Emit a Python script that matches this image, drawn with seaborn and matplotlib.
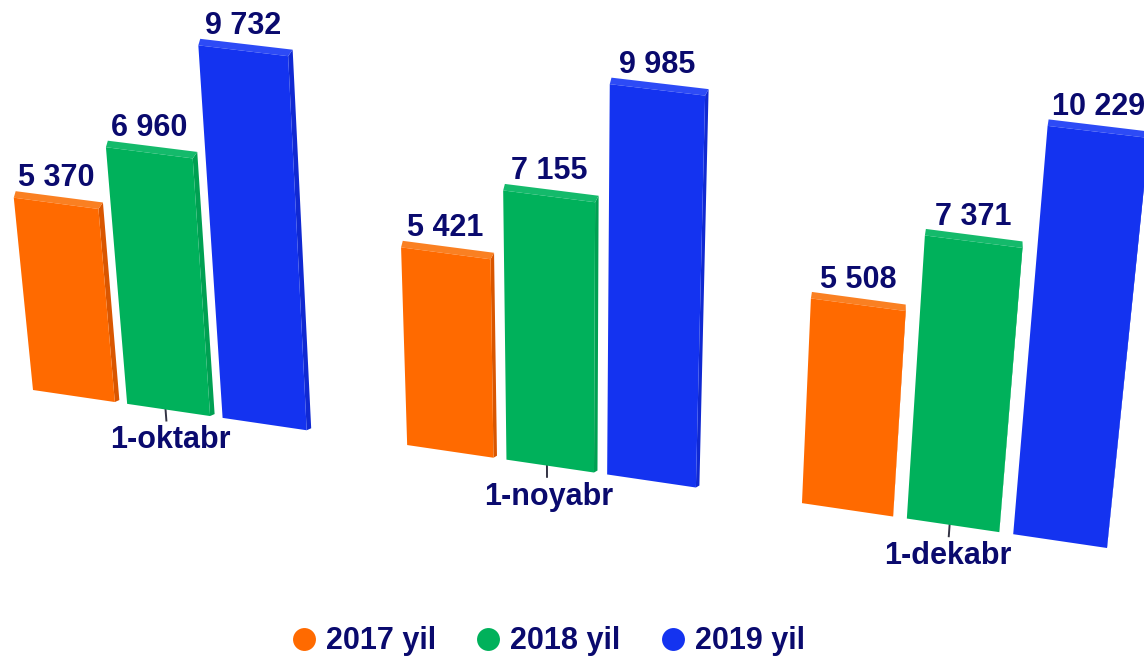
import numpy as np
import pandas as pd
import matplotlib.pyplot as plt
import seaborn as sns
from matplotlib.lines import Line2D
from matplotlib.patches import Polygon
from matplotlib.transforms import Affine2D, Transform

# Data
months = ["1-oktabr", "1-noyabr", "1-dekabr"]
years = ["2017 yil", "2018 yil", "2019 yil"]
values_2017 = [5370, 5421, 5508]
values_2018 = [6960, 7155, 7371]
values_2019 = [9732, 9985, 10229]

front_colors = ["#FF6A00", "#00B15B", "#1433F0"]
top_colors = ["#FA8022", "#14BA6B", "#2D4BF6"]
side_colors = ["#D95600", "#00A052", "#1029D2"]
navy = "#0A0A6E"

# value axis starts above zero, the original chart is truncated
floor = 300
# where the plane of the bars lands in the picture (image pixels)
plane_px = [(33, 390), (1107, 548), (1149, 138), (-6, 0)]
side_shift = [4.5, 3.5, 0]
label_shift = [1, -1, -4]

df = pd.DataFrame(
    {
        "month": months * 3,
        "year": np.repeat(years, 3),
        "value": values_2017 + values_2018 + values_2019,
    }
)


class Perspective(Transform):
    input_dims = 2
    output_dims = 2
    is_separable = False
    has_inverse = False

    def __init__(self, src, dst):
        super().__init__()
        rows, rhs = [], []
        for (x, y), (u, v) in zip(src, dst):
            rows.append([x, y, 1, 0, 0, 0, -u * x, -u * y])
            rows.append([0, 0, 0, x, y, 1, -v * x, -v * y])
            rhs += [u, v]
        self.h = np.append(np.linalg.solve(np.array(rows), np.array(rhs)), 1).reshape(3, 3)

    def transform_non_affine(self, values):
        pts = np.column_stack([values, np.ones(len(values))]) @ self.h.T
        return pts[:, :2] / pts[:, 2:]


plt.rcParams["font.family"] = ["Liberation Sans", "DejaVu Sans"]

fig = plt.figure(figsize=(11.44, 6.56), dpi=100)
ax = fig.add_axes([0, 0, 1, 1])

sns.barplot(
    data=df,
    x="month",
    y="value",
    hue="year",
    palette=front_colors,
    saturation=1,
    width=0.77,
    gap=0.13,
    errorbar=None,
    legend=False,
    ax=ax,
)

bars = list(ax.patches)
x_left = min(b.get_x() for b in bars)
x_right = max(b.get_x() + b.get_width() for b in bars)
src = [
    (x_left, floor),
    (x_right, floor),
    (x_right, values_2019[-1]),
    (x_left, values_2019[-1]),
]
proj = Perspective(src, plane_px)
to_display = Affine2D().scale(1, -1).translate(0, fig.bbox.height)
plane = proj + to_display

# Front faces + extruded top and side
for n, bar in enumerate(bars):
    group, series = n % 3, n // 3
    top_value = bar.get_height()
    bar.set_y(floor)
    bar.set_height(top_value - floor)
    bar.set_linewidth(0)
    bar.set_transform(plane)
    bar.set_clip_on(False)
    bar.set_zorder(3)

    x0, x1 = bar.get_x(), bar.get_x() + bar.get_width()
    (tl, tr, br) = proj.transform([(x0, top_value), (x1, top_value), (x1, floor)])
    dx = side_shift[group]
    back_tl = tl + (dx * 0.2 + 1, -6.5)
    back_tr = tr + (dx, -6.5)
    back_br = br + (dx, -2)
    ax.add_patch(
        Polygon(
            [tr, br, back_br, back_tr],
            closed=True,
            transform=to_display,
            fc=side_colors[series],
            lw=0,
            clip_on=False,
            zorder=2,
        )
    )
    ax.add_patch(
        Polygon(
            [tl, tr, back_tr, back_tl],
            closed=True,
            transform=to_display,
            fc=top_colors[series],
            lw=0,
            clip_on=False,
            zorder=2,
        )
    )
    ax.annotate(
        f"{int(top_value):,}".replace(",", " "),
        xy=((x0 + x1) / 2, top_value),
        xycoords=plane,
        xytext=(0, 18),
        textcoords="offset points",
        ha="center",
        va="center",
        fontsize=22,
        fontweight="bold",
        color=navy,
        annotation_clip=False,
    )

# Ticks and month labels
for i, month in enumerate(months):
    ax.plot(
        [i - 0.008, i - 0.008],
        [floor, floor - 300],
        transform=plane,
        color="#333344",
        lw=1.4,
        clip_on=False,
        zorder=1,
    )
    ax.annotate(
        month,
        xy=(i, floor),
        xycoords=plane,
        xytext=(label_shift[i], -22),
        textcoords="offset points",
        ha="center",
        va="center",
        fontsize=22,
        fontweight="bold",
        color=navy,
        annotation_clip=False,
    )

handles = [
    Line2D([], [], ls="", marker="o", ms=16.5, mew=0, color=c) for c in front_colors
]
ax.legend(
    handles,
    years,
    loc="center",
    bbox_to_anchor=(0.478, 0.0225),
    ncol=3,
    frameon=False,
    handlelength=1,
    handletextpad=0.22,
    columnspacing=1.2,
    prop={"size": 22, "weight": "bold"},
    labelcolor=navy,
    borderpad=0,
)

ax.set_axis_off()
fig.savefig("out.png", dpi=100, facecolor="white")
plt.close()
